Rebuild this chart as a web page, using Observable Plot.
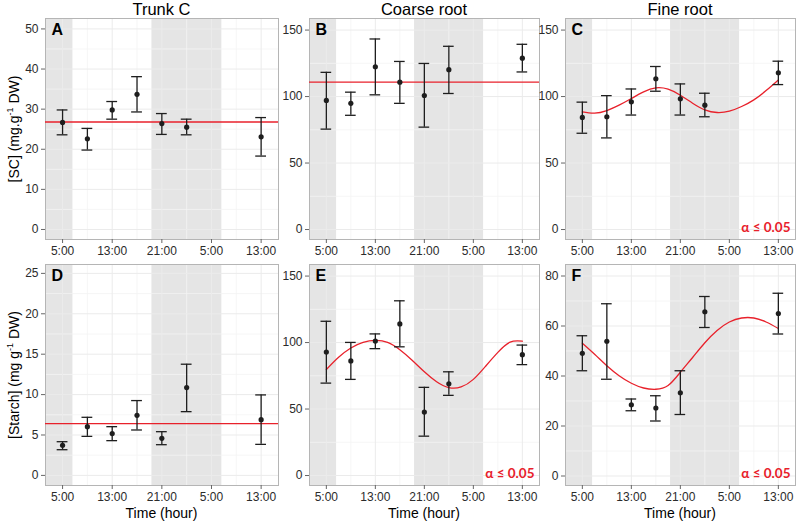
<!DOCTYPE html>
<html><head><meta charset="utf-8">
<script src="https://cdn.jsdelivr.net/npm/d3@7"></script>
<script src="https://cdn.jsdelivr.net/npm/@observablehq/plot@0.6"></script>
<style>
body{margin:0;background:#fff;font-family:"Liberation Sans",Arial,sans-serif;}
#fig{position:relative;width:799px;height:523px;overflow:hidden;background:#fff;}
.panel{position:absolute;}
.lbl{position:absolute;transform:translate(-50%,-50%);white-space:nowrap;color:#000;line-height:1;}
.ytl{position:absolute;transform:translate(-50%,-50%) rotate(-90deg);white-space:nowrap;color:#000;font-size:14px;line-height:1;}
.ytl sup{font-size:9px;vertical-align:6px;}
</style></head><body><div id="fig"></div>
<script>
// sampling times (hours after 5:00 on day 1)
const sampleHours = [0, 4, 8, 12, 16, 20, 32];
const tickHours = [0, 8, 16, 24, 32];
const tickLabels = ["5:00", "13:00", "21:00", "5:00", "13:00"];
const minorHours = [4, 12, 20, 28];
const nightStart = [-2.75, 14.4];
const nightEnd = [1.67, 25.67];
const curveHours = [0, 2, 4, 6, 8, 10, 12, 14, 16, 18, 20, 22, 24, 26, 28, 30, 32];

const columnTitles = ["Trunk C", "Coarse root", "Fine root"];
const alphaText = "α ≤ 0.05";

// A: trunk SC
const trunkSCMean = [26.7, 22.6, 29.8, 33.7, 26.4, 25.5, 23.1];
const trunkSCLo = [23.6, 19.8, 27.5, 29.3, 23.7, 23.6, 18.3];
const trunkSCHi = [29.8, 25.2, 31.9, 38.1, 28.9, 27.5, 27.9];
const trunkSCFit = [26.8];
// B: coarse root SC
const coarseSCMean = [97.1, 94.9, 122.4, 110.8, 100.8, 120.2, 128.9];
const coarseSCLo = [75.5, 85.9, 101.3, 94.9, 77.0, 102.3, 118.5];
const coarseSCHi = [118.2, 103.3, 143.3, 126.4, 124.9, 137.8, 139.3];
const coarseSCFit = [110.8];
// C: fine root SC
const fineSCMean = [84.3, 84.8, 96.0, 113.4, 98.3, 93.5, 117.9];
const fineSCLo = [72.4, 68.9, 86.1, 104.0, 86.1, 84.8, 109.0];
const fineSCHi = [95.8, 100.7, 105.7, 122.6, 109.5, 102.5, 126.6];
const fineSCCurve = [88.5, 87.5, 89.5, 93.5, 98.5, 103.5, 106.5, 105.5, 101, 95, 90, 88, 89, 92.5, 97.5, 104.5, 112.5];
// D: trunk starch
const trunkStMean = [3.72, 6.03, 5.17, 7.44, 4.59, 10.87, 6.90];
const trunkStLo = [3.18, 4.83, 4.30, 5.62, 3.80, 7.89, 3.84];
const trunkStHi = [4.17, 7.19, 6.03, 9.26, 5.41, 13.76, 9.96];
const trunkStFit = [6.40];
// E: coarse root starch
const coarseStMean = [92.9, 86.2, 101.1, 114.0, 47.7, 69.0, 90.9];
const coarseStLo = [69.5, 72.3, 95.4, 96.8, 29.6, 60.3, 83.4];
const coarseStHi = [116.0, 100.1, 106.5, 131.4, 66.3, 78.0, 98.1];
const coarseStCurve = [79.7, 88.9, 95.9, 100.1, 101.6, 100.1, 94.6, 86.7, 78.0, 70.5, 66.1, 66.6, 72.3, 82.2, 92.6, 100.3, 101.0];
// F: fine root starch
const fineStMean = [49.1, 53.9, 28.5, 27.2, 33.3, 65.7, 65.0];
const fineStLo = [42.1, 38.7, 26.1, 22.0, 24.6, 59.4, 56.8];
const fineStHi = [56.1, 68.9, 30.8, 32.1, 42.1, 71.8, 73.1];
const fineStCurve = [53.1, 48.7, 44.1, 40.1, 37.1, 35.2, 34.7, 36.2, 41.5, 47.4, 53.3, 58.2, 61.6, 63.2, 63.2, 61.6, 59.0];

const RED = "#e8212b";
const xDomain = [-2.75, 34.8];
const capHalf = 0.87;

function panel(cfg) {
  const rows = sampleHours.map((h, i) => ({h, mean: cfg.mean[i], lo: cfg.lo[i], hi: cfg.hi[i]}));
  const bands = nightStart.map((s, i) => ({x1: s, x2: nightEnd[i]}));
  const marks = [
    Plot.rect(bands, {x1: "x1", x2: "x2", fill: "#e5e5e5"}),
    Plot.ruleX(minorHours, {stroke: "#f4f4f4", strokeWidth: 0.8}),
    Plot.ruleY(cfg.yMinor, {stroke: "#f4f4f4", strokeWidth: 0.8}),
    Plot.ruleX(tickHours, {stroke: "#ebebeb", strokeWidth: 1}),
    Plot.ruleY(cfg.yTicks, {stroke: "#ebebeb", strokeWidth: 1}),
    Plot.frame({stroke: "#b5b5b5"}),
    Plot.axisX({ticks: tickHours, tickFormat: d => tickLabels[tickHours.indexOf(d)], tickSize: 4, tickPadding: 3, fontSize: 12, stroke: "#666", fill: "#2b2b2b", label: null}),
    Plot.axisY({ticks: cfg.yTicks, tickSize: 4, tickPadding: 3, fontSize: 12, stroke: "#666", fill: "#2b2b2b", label: null}),
  ];
  if (cfg.fit) marks.push(Plot.ruleY(cfg.fit, {stroke: RED, strokeWidth: 1.3}));
  if (cfg.curve) {
    const cr = curveHours.map((h, i) => ({h, v: cfg.curve[i]}));
    marks.push(Plot.line(cr, {x: "h", y: "v", curve: "natural", stroke: RED, strokeWidth: 1.3}));
  }
  marks.push(
    Plot.ruleX(rows, {x: "h", y1: "lo", y2: "hi", stroke: "#1e1e1e", strokeWidth: 1.3}),
    Plot.ruleY(rows, {y: "hi", x1: d => d.h - capHalf, x2: d => d.h + capHalf, stroke: "#1e1e1e", strokeWidth: 1.3}),
    Plot.ruleY(rows, {y: "lo", x1: d => d.h - capHalf, x2: d => d.h + capHalf, stroke: "#1e1e1e", strokeWidth: 1.3}),
    Plot.dot(rows, {x: "h", y: "mean", r: 2.6, fill: "#1e1e1e", stroke: "none"}),
    Plot.text([cfg.letter], {text: d => d, frameAnchor: "top-left", dx: 6, dy: 5, fontSize: 16, fontWeight: "bold", fill: "#000"})
  );
  if (cfg.alpha) marks.push(Plot.text([alphaText], {text: d => d, frameAnchor: "bottom-right", dx: -5, dy: -8, fontSize: 13.5, fontWeight: "bold", fill: RED, fontFamily: "Lato"}));
  const svg = Plot.plot({
    width: cfg.width, height: cfg.height,
    marginLeft: cfg.ml, marginRight: cfg.mr, marginTop: cfg.mt, marginBottom: cfg.mb,
    x: {domain: xDomain},
    y: {domain: cfg.yDomain},
    style: {fontFamily: "Liberation Sans, Arial, sans-serif", background: "transparent", overflow: "visible"},
    marks
  });
  svg.classList.add("panel");
  svg.style.left = cfg.left + "px";
  svg.style.top = cfg.top + "px";
  svg.style.position = "absolute";
  document.getElementById("fig").appendChild(svg);
}

const cols = [
  {left: 0, width: 279, ml: 45, mr: 1},
  {left: 279, width: 261, ml: 30, mr: 1},
  {left: 540, width: 259, ml: 25, mr: 4}
];
const rowsL = [
  {top: 0, height: 260, mt: 18, mb: 21},
  {top: 260, height: 263, mt: 4, mb: 38}
];
const T100 = {yTicks: [0, 50, 100, 150], yMinor: [25, 75, 125], yDomain: [-7.5, 158.7]};

const specs = [
  {c: 0, r: 0, letter: "A", mean: trunkSCMean, lo: trunkSCLo, hi: trunkSCHi, fit: trunkSCFit, yTicks: [0,10,20,30,40,50], yMinor: [5,15,25,35,45], yDomain: [-2.5, 52.6]},
  {c: 1, r: 0, letter: "B", mean: coarseSCMean, lo: coarseSCLo, hi: coarseSCHi, fit: coarseSCFit, ...T100},
  {c: 2, r: 0, letter: "C", mean: fineSCMean, lo: fineSCLo, hi: fineSCHi, curve: fineSCCurve, alpha: true, ...T100},
  {c: 0, r: 1, letter: "D", mean: trunkStMean, lo: trunkStLo, hi: trunkStHi, fit: trunkStFit, yTicks: [0,5,10,15,20,25], yMinor: [2.5,7.5,12.5,17.5,22.5], yDomain: [-1.25, 26.1]},
  {c: 1, r: 1, letter: "E", mean: coarseStMean, lo: coarseStLo, hi: coarseStHi, curve: coarseStCurve, alpha: true, ...T100},
  {c: 2, r: 1, letter: "F", mean: fineStMean, lo: fineStLo, hi: fineStHi, curve: fineStCurve, alpha: true, yTicks: [0,20,40,60,80], yMinor: [10,30,50,70], yDomain: [-3.8, 84.6]}
];
for (const s of specs) panel({...s, ...cols[s.c], ...rowsL[s.r]});

const fig = document.getElementById("fig");
function addLabel(html, x, y, size, cls) {
  const d = document.createElement("div");
  d.className = cls || "lbl";
  d.innerHTML = html;
  d.style.left = x + "px";
  d.style.top = y + "px";
  if (size) d.style.fontSize = size + "px";
  fig.appendChild(d);
}
const colCenters = [161.5, 424, 680];
columnTitles.forEach((t, i) => addLabel(t, colCenters[i], 9, 16.5));
colCenters.forEach(cx => addLabel("Time (hour)", cx, 513, 14));
addLabel("[SC] (mg.g<sup>-1</sup> DW)", 12.5, 128.5, null, "ytl");
addLabel("[Starch] (mg g<sup>-1</sup> DW)", 12.5, 374.5, null, "ytl");
</script></body></html>
